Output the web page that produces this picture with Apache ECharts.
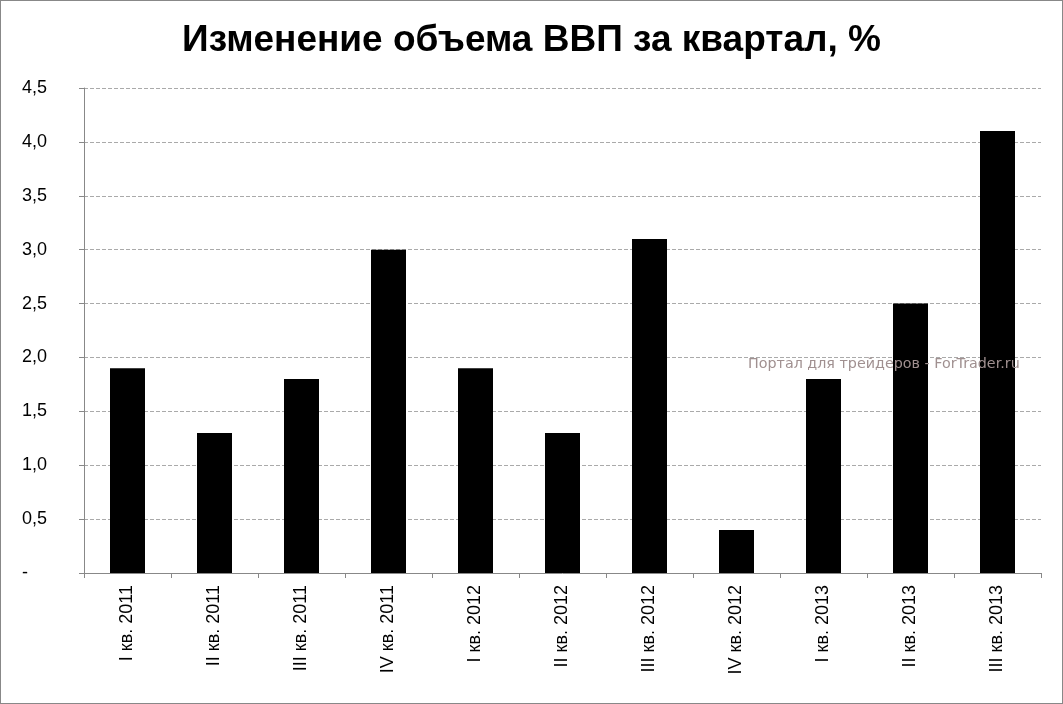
<!DOCTYPE html>
<html><head><meta charset="utf-8">
<script src="https://cdn.jsdelivr.net/npm/echarts@6/dist/echarts.min.js"></script>
<style>html,body{margin:0;padding:0;background:#fff}#c{width:1061px;height:702px;border:1px solid #888}</style>
</head><body><div id="c"></div>
<script>
var categories=["I кв. 2011","II кв. 2011","III кв. 2011","IV кв. 2011","I кв. 2012","II кв. 2012","III кв. 2012","IV кв. 2012","I кв. 2013","II кв. 2013","III кв. 2013"];
var values=[1.9,1.3,1.8,3.0,1.9,1.3,3.1,0.4,1.8,2.5,4.1];
var chart=echarts.init(document.getElementById('c'));
chart.setOption({
animation:false,
title:{text:"Изменение объема ВВП за квартал, %",left:'center',top:16,textStyle:{fontFamily:'Liberation Sans',fontSize:37,fontWeight:'bold',color:'#000'}},
graphic:[{type:'text',left:747,top:356,z:100,style:{text:'Портал для трейдеров - ForTrader.ru',fill:'#a09090',font:'14.3px DejaVu Sans'}}],
grid:{left:83,right:21,top:87,bottom:130},
xAxis:{type:'category',data:categories,axisLine:{lineStyle:{color:'#888'}},axisTick:{show:true,lineStyle:{color:'#888'}},
axisLabel:{rotate:90,interval:0,color:'#000',fontFamily:'Liberation Sans',fontSize:18,margin:12}},
yAxis:{type:'value',min:0,max:4.5,interval:0.5,axisLine:{show:true,lineStyle:{color:'#888'}},axisTick:{show:true,lineStyle:{color:'#888'}},
splitLine:{lineStyle:{type:'dashed',color:'#aaa'}},
axisLabel:{color:'#000',fontFamily:'Liberation Sans',fontSize:18,align:'left',margin:62,formatter:function(v){return v===0?'-':v.toFixed(1).replace('.',',');}}},
series:[{type:'bar',data:values,barWidth:35,itemStyle:{color:'#000'}}]
});
</script></body></html>
